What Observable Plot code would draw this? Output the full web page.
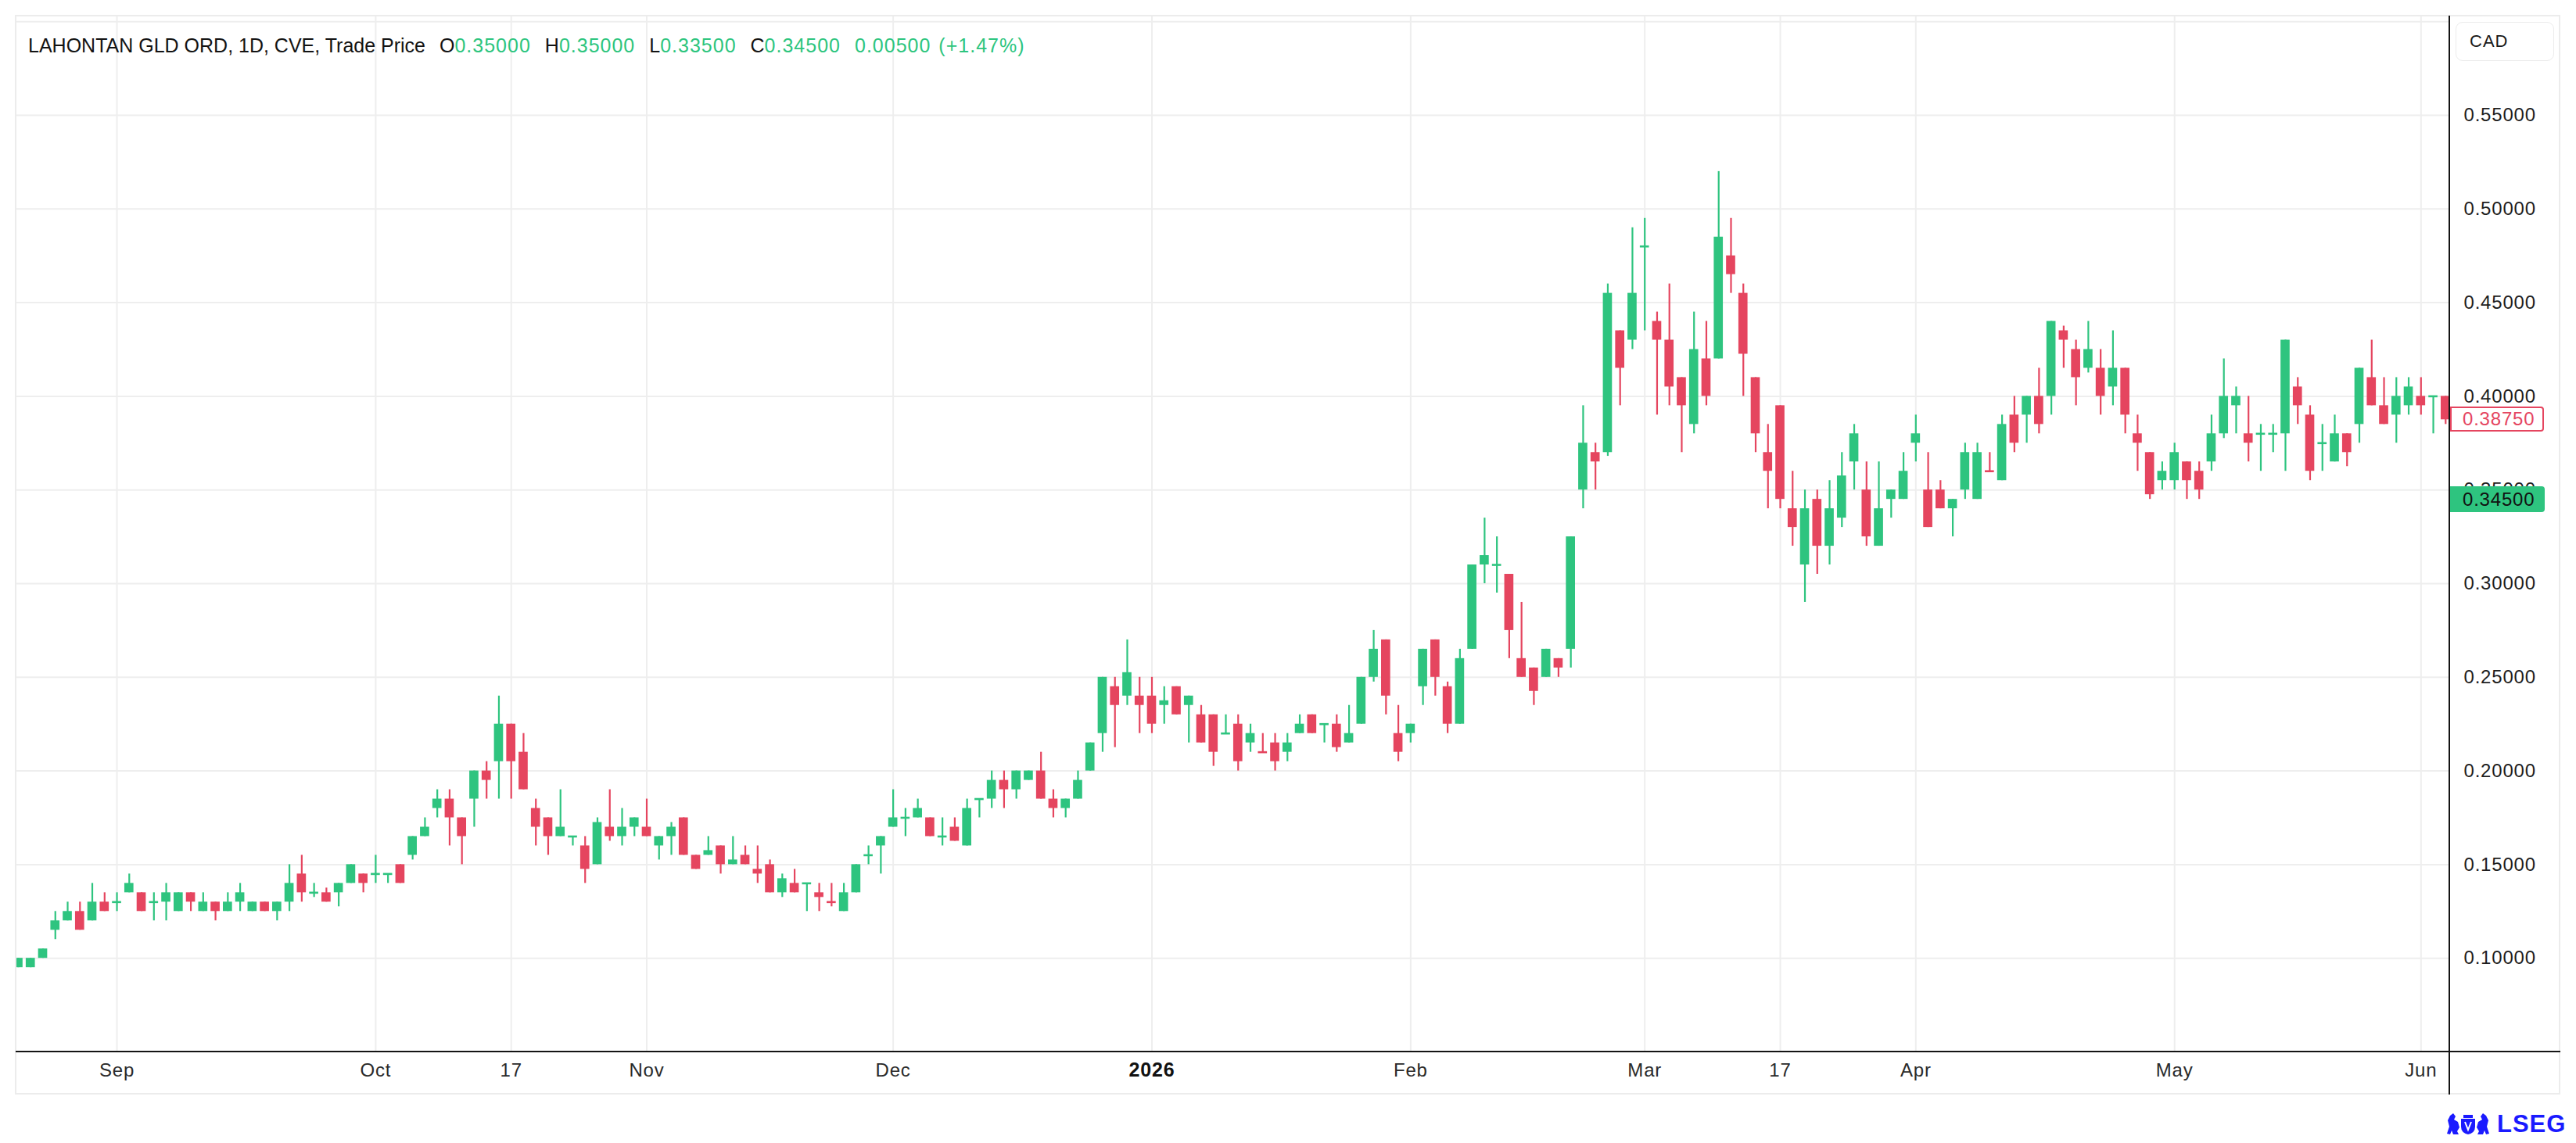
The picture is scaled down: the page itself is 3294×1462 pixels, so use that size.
<!DOCTYPE html>
<html><head><meta charset="utf-8">
<script src="https://cdn.jsdelivr.net/npm/d3@7"></script>
<script src="https://cdn.jsdelivr.net/npm/@observablehq/plot@0.6"></script>
<style>
html,body{margin:0;padding:0;background:#fff;}
#wrap{position:relative;width:3294px;height:1462px;overflow:hidden;font-family:"Liberation Sans",Arial,sans-serif;color:#111;}
#wrap svg{position:absolute;left:0;top:0;}
#wrap svg text{letter-spacing:0.8px;}
.abs{position:absolute;}
#title{left:36px;top:44px;font-size:25px;line-height:28px;white-space:nowrap;color:#131313;}
#title .g{color:#2dc57e;letter-spacing:1px;}
#title .k{margin-left:18px;}
</style></head>
<body><div id="wrap"></div>
<script>
// ---- data: [day, open, high, low, close] per month ----
const aug2025 = [[20,.095,.100,.095,.100],[21,.095,.100,.095,.100],[22,.100,.105,.100,.105],[25,.115,.125,.110,.120],[26,.120,.130,.120,.125],[27,.125,.130,.115,.115],[28,.120,.140,.120,.130],[29,.130,.135,.125,.125]];
const sep2025 = [[2,.130,.135,.125,.130],[3,.135,.145,.135,.140],[4,.135,.135,.125,.125],[5,.130,.135,.120,.130],[8,.130,.140,.120,.135],[9,.125,.135,.125,.135],[10,.135,.135,.125,.130],[11,.125,.135,.125,.130],[12,.130,.130,.120,.125],[15,.125,.135,.125,.130],[16,.130,.140,.125,.135],[17,.125,.130,.125,.130],[18,.130,.130,.125,.125],[19,.125,.130,.120,.130],[22,.130,.150,.125,.140],[23,.145,.155,.130,.135],[24,.135,.140,.1325,.135],[25,.135,.1375,.130,.130],[26,.135,.140,.1275,.140],[29,.140,.150,.140,.150],[30,.145,.145,.135,.140]];
const oct2025 = [[1,.145,.155,.140,.145],[2,.145,.145,.140,.145],[3,.150,.150,.140,.140],[6,.155,.165,.1525,.165],[7,.165,.175,.165,.170],[8,.180,.190,.175,.185],[9,.185,.190,.160,.175],[10,.175,.175,.150,.165],[14,.185,.200,.170,.200],[15,.200,.205,.185,.195],[16,.205,.240,.185,.225],[17,.225,.225,.185,.205],[20,.210,.220,.190,.190],[21,.180,.185,.160,.170],[22,.175,.175,.155,.165],[23,.165,.190,.165,.170],[24,.165,.165,.160,.165],[27,.160,.165,.140,.1475],[28,.150,.175,.150,.1725],[29,.170,.190,.1625,.165],[30,.165,.180,.160,.170],[31,.170,.175,.165,.175]];
const nov2025 = [[3,.170,.185,.165,.165],[4,.160,.165,.1525,.165],[5,.165,.1725,.155,.170],[6,.175,.175,.155,.155],[7,.155,.155,.1475,.1475],[10,.155,.165,.155,.1575],[11,.160,.160,.145,.150],[12,.150,.165,.150,.1525],[13,.155,.160,.150,.150],[14,.1475,.160,.140,.145],[17,.150,.1525,.135,.135],[18,.135,.145,.1325,.1425],[19,.140,.1475,.135,.135],[20,.140,.140,.125,.140],[21,.135,.140,.125,.1325],[24,.130,.140,.1275,.130],[25,.125,.140,.125,.135],[26,.135,.150,.135,.150],[27,.155,.160,.150,.155],[28,.160,.165,.145,.165]];
const dec2025 = [[1,.170,.190,.170,.175],[2,.175,.180,.165,.175],[3,.175,.185,.175,.180],[4,.175,.175,.165,.165],[5,.165,.175,.160,.165],[8,.170,.175,.1625,.1625],[9,.160,.185,.160,.180],[10,.185,.185,.175,.185],[11,.185,.200,.180,.195],[12,.195,.200,.180,.190],[15,.190,.200,.185,.200],[16,.195,.200,.195,.200],[17,.200,.210,.185,.185],[18,.185,.190,.175,.180],[19,.180,.185,.175,.185],[22,.185,.200,.185,.195],[23,.200,.215,.200,.215],[24,.220,.250,.210,.250],[29,.245,.250,.2125,.235],[30,.240,.270,.235,.2525],[31,.240,.250,.220,.235]];
const jan2026 = [[2,.240,.250,.220,.225],[5,.235,.245,.225,.2375],[6,.245,.245,.230,.230],[7,.235,.240,.215,.240],[8,.230,.235,.215,.215],[9,.230,.230,.2025,.210],[12,.220,.230,.220,.220],[13,.225,.230,.200,.205],[14,.215,.225,.210,.220],[15,.210,.220,.210,.210],[16,.215,.220,.200,.205],[19,.210,.220,.205,.215],[20,.220,.230,.220,.225],[21,.230,.230,.220,.220],[22,.225,.225,.215,.225],[23,.225,.230,.210,.2125],[26,.215,.235,.215,.220],[27,.225,.250,.225,.250],[28,.250,.275,.2475,.265],[29,.270,.270,.230,.240],[30,.220,.235,.205,.210]];
const feb2026 = [[2,.220,.225,.215,.225],[3,.245,.265,.235,.265],[4,.270,.270,.240,.250],[5,.245,.2475,.220,.225],[6,.225,.265,.225,.260],[9,.265,.310,.265,.310],[10,.310,.335,.300,.315],[11,.310,.325,.295,.310],[12,.305,.305,.260,.275],[13,.260,.290,.250,.250],[17,.255,.255,.235,.2425],[18,.250,.265,.250,.265],[19,.260,.260,.250,.255],[20,.265,.325,.255,.325],[23,.350,.395,.340,.375],[24,.370,.375,.350,.365],[25,.370,.460,.368,.455],[26,.435,.435,.395,.415],[27,.430,.490,.425,.455]];
const mar2026 = [[2,.480,.495,.435,.480],[3,.440,.445,.390,.430],[4,.430,.460,.395,.405],[5,.410,.410,.370,.395],[6,.385,.445,.380,.425],[9,.420,.440,.395,.400],[10,.420,.520,.420,.485],[11,.475,.495,.455,.465],[12,.455,.460,.400,.4225],[13,.410,.410,.370,.380],[16,.370,.385,.340,.360],[17,.395,.395,.340,.345],[18,.340,.360,.320,.330],[19,.310,.350,.290,.340],[20,.345,.350,.305,.320],[23,.320,.355,.310,.340],[24,.335,.370,.330,.3575],[25,.365,.385,.350,.380],[26,.350,.365,.320,.325],[27,.320,.365,.320,.340],[30,.345,.350,.335,.350],[31,.345,.370,.345,.360]];
const apr2026 = [[1,.375,.390,.365,.380],[2,.350,.370,.330,.330],[6,.350,.355,.340,.340],[7,.340,.345,.325,.345],[8,.350,.375,.345,.370],[9,.345,.375,.345,.370],[10,.360,.370,.360,.360],[13,.355,.390,.355,.385],[14,.390,.400,.370,.375],[15,.390,.400,.375,.400],[16,.400,.415,.380,.385],[17,.400,.440,.390,.440],[20,.435,.4375,.415,.430],[21,.425,.430,.395,.410],[22,.415,.440,.4125,.425],[23,.415,.425,.390,.400],[24,.405,.435,.395,.415],[27,.415,.415,.380,.390],[28,.380,.390,.360,.375],[29,.370,.370,.345,.3475],[30,.355,.365,.350,.360]];
const may2026 = [[1,.355,.375,.350,.370],[4,.365,.365,.345,.355],[5,.360,.365,.345,.350],[6,.365,.390,.360,.380],[7,.380,.420,.3775,.400],[8,.395,.405,.380,.400],[11,.380,.400,.365,.375],[12,.380,.385,.360,.380],[13,.380,.385,.370,.380],[14,.380,.430,.360,.430],[15,.405,.410,.385,.395],[19,.390,.395,.355,.360],[20,.375,.385,.360,.375],[21,.365,.390,.365,.380],[22,.380,.380,.3625,.370],[25,.385,.415,.375,.415],[26,.410,.430,.395,.395],[27,.395,.410,.385,.385],[28,.390,.410,.375,.400],[29,.395,.410,.390,.405]];
const jun2026 = [[1,.400,.410,.390,.395],[2,.400,.400,.380,.400],[3,.400,.400,.385,.3875]];
const downDoji = ["2025-11-24","2026-01-15","2026-04-10"];

const yGrid = [0.10,0.15,0.20,0.25,0.30,0.35,0.40,0.45,0.50,0.55,0.60];
const yLabels = [0.10,0.15,0.20,0.25,0.30,0.35,0.40,0.45,0.50,0.55];
const xTickDates = ["2025-09-02","2025-10-01","2025-10-17","2025-11-03","2025-12-01","2026-01-02","2026-02-02","2026-03-02","2026-03-17","2026-04-01","2026-05-01","2026-06-01"];
const xTickLabels = ["Sep","Oct","17","Nov","Dec","2026","Feb","Mar","17","Apr","May","Jun"];
const lastPrice = 0.3875, tradePrice = 0.345;

const G = "#2ec47f", R = "#e5455f";

// ---- build table ----
const months = [["2025-08",aug2025],["2025-09",sep2025],["2025-10",oct2025],["2025-11",nov2025],["2025-12",dec2025],["2026-01",jan2026],["2026-02",feb2026],["2026-03",mar2026],["2026-04",apr2026],["2026-05",may2026],["2026-06",jun2026]];
const rows = [];
for (const [ym, arr] of months) for (const [day,o,h,l,c] of arr)
  rows.push({date: ym + "-" + String(day).padStart(2,"0"), open:o, high:h, low:l, close:c});
rows.forEach((d,i) => {
  d.i = i;
  d.dir = d.close > d.open ? "up" : d.close < d.open ? "down" : (downDoji.includes(d.date) ? "down" : "up");
});
const ticks = xTickDates.map((dt,k) => ({i: rows.findIndex(r => r.date === dt), label: xTickLabels[k], bold: xTickLabels[k] === "2026"}));
const bodies = rows.filter(d => d.open !== d.close);
const dojis = rows.filter(d => d.open === d.close);
const HW = 0.37;

const W = 3294, H = 1462;
const chart = Plot.plot({
  width: W, height: H,
  marginTop: 20, marginBottom: 117, marginLeft: 20, marginRight: 162,
  style: {fontFamily: "Liberation Sans, Arial, sans-serif", background: "transparent", overflow: "visible"},
  x: {type: "linear", domain: [-0.19, 197.33], axis: null},
  y: {type: "linear", domain: [0.05, 0.603], axis: null},
  color: {domain: ["up","down"], range: [G, R]},
  marks: [
    Plot.ruleY(yGrid, {y: d => d, stroke: "#eeeeee", strokeWidth: 2}),
    Plot.ruleX(ticks, {x: "i", stroke: "#eeeeee", strokeWidth: 2}),
    Plot.ruleX(rows, {x: "i", y1: "low", y2: "high", stroke: "dir", strokeWidth: 2.2, clip: true}),
    Plot.rect(bodies, {x1: d => d.i - HW, x2: d => d.i + HW, y1: "open", y2: "close", fill: "dir", clip: true}),
    Plot.ruleY(dojis, {y: "close", x1: d => d.i - HW, x2: d => d.i + HW, stroke: "dir", strokeWidth: 2.6, clip: true}),
    Plot.text(yLabels, {y: d => d, text: d => d3.format(".5f")(d), frameAnchor: "right", dx: 18, textAnchor: "start", fontSize: 24, fill: "#1e1e1e"}),
    Plot.text(ticks.filter(t => !t.bold), {x: "i", text: "label", frameAnchor: "bottom", dy: 31, fontSize: 24, fill: "#2a2a2a"}),
    Plot.text(ticks.filter(t => t.bold), {x: "i", text: "label", frameAnchor: "bottom", dy: 31, fontSize: 25, fontWeight: "bold", fill: "#111"})
  ]
});

const wrap = document.getElementById("wrap");
wrap.appendChild(chart);

function div(css, html) {
  const e = document.createElement("div");
  e.className = "abs";
  e.style.cssText = css;
  if (html) e.innerHTML = html;
  wrap.appendChild(e);
  return e;
}
// frame and axis lines
div("left:19px;top:19px;width:3255px;height:1381px;border:2px solid #ececec;box-sizing:border-box;");
div("left:20px;top:1344px;width:3254px;height:2px;background:#141414;");
div("left:3131px;top:20px;width:2px;height:1380px;background:#141414;");

// title
div("", "").id = "title";
document.getElementById("title").innerHTML =
  'LAHONTAN GLD ORD, 1D, CVE, Trade Price<span class="k">O</span><span class="g">0.35000</span>' +
  '<span class="k">H</span><span class="g">0.35000</span><span class="k">L</span><span class="g">0.33500</span>' +
  '<span class="k">C</span><span class="g">0.34500</span><span class="k g">0.00500</span><span class="g" style="margin-left:10px">(+1.47%)</span>';

// currency box
div("left:3140px;top:28px;width:126px;height:50px;border:1.5px solid #ececec;border-radius:9px;box-sizing:border-box;font-size:22px;line-height:47px;padding-left:17px;color:#1a1a1a;letter-spacing:1px;", "CAD");

// price labels placed with the chart's y scale
const ys = chart.scale("y");
const yf = ys.apply ? (v => ys.apply(v)) : d3.scaleLinear(ys.domain, ys.range);
const yR = yf(lastPrice), yG = yf(tradePrice);
div(`left:3133px;top:${yR-16}px;width:120px;height:32px;border:2px solid ${R};background:#fff;border-radius:0 4px 4px 0;box-sizing:border-box;color:${R};font-size:24px;line-height:28px;padding-left:14px;letter-spacing:0.8px;`, d3.format(".5f")(lastPrice));
div(`left:3133px;top:${yG-16}px;width:121px;height:33px;background:${G};border-radius:0 4px 4px 0;box-sizing:border-box;color:#111;font-size:24px;line-height:33px;padding-left:16px;letter-spacing:0.8px;`, d3.format(".5f")(tradePrice));

// logo
div("left:3128px;top:1423px;width:56px;height:30px;",
 '<svg width="56" height="30" viewBox="0 0 56 30"><g fill="#1a1aff">' +
 '<path d="M1 27 L4 18 L2 10 L5 4 L9 1 L12 5 L10 9 L15 12 L17 19 L14 24 L16 28 L9 28 L7 23 L5 28 Z"/>' +
 '<path d="M55 27 L52 18 L54 10 L51 4 L47 1 L44 5 L46 9 L41 12 L39 19 L42 24 L40 28 L47 28 L49 23 L51 28 Z"/>' +
 '<path d="M19 8 L37 8 L37 18 Q37 26 28 28 Q19 26 19 18 Z"/>' +
 '<rect x="22" y="3" width="12" height="4"/></g>' +
 '<path d="M24 12 L28 22 L32 12" stroke="#fff" stroke-width="2" fill="none"/></svg>');
div("left:3193px;top:1421px;font-size:31px;line-height:34px;font-weight:bold;color:#1a1aff;letter-spacing:1px;", "LSEG");
</script>
</body></html>
